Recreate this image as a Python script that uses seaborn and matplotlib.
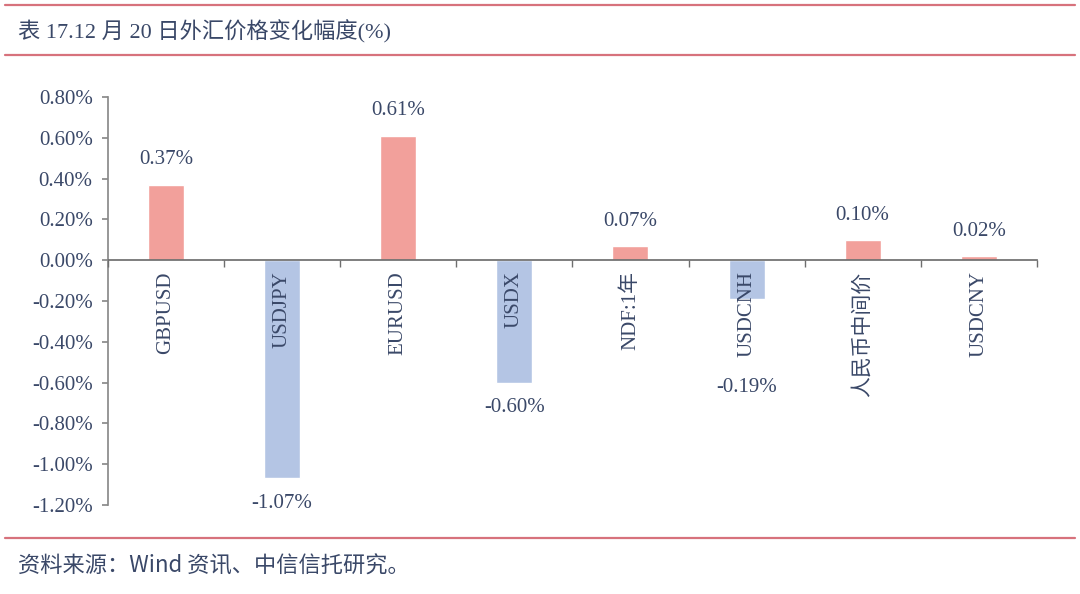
import pandas as pd
import numpy as np
import matplotlib
matplotlib.use("Agg")
import matplotlib.pyplot as plt
import seaborn as sns
from matplotlib.ticker import FuncFormatter, FixedLocator

categories = ["GBPUSD", "USDJPY", "EURUSD", "USDX", "NDF:1年", "USDCNH", "人民币中间价", "USDCNY"]
changes = [0.37, -1.07, 0.61, -0.60, 0.07, -0.19, 0.10, 0.02]
title = "表 17.12 月 20 日外汇价格变化幅度(%)"
source = "资料来源：Wind 资讯、中信信托研究。"

TEXT = "#3a4868"
LINE = "#d7727c"
POS = "#f2a09b"
NEG = "#b4c5e4"

sns.set_theme(style="white")
plt.rcParams["font.family"] = ["Liberation Serif", "Noto Sans CJK SC", "DejaVu Sans"]

df = pd.DataFrame({"cat": categories, "val": changes})
df["sign"] = np.where(df["val"] >= 0, "pos", "neg")

fig = plt.figure(figsize=(10.8, 5.94), dpi=100)
ax = fig.add_axes([0.1, 0.1498, 0.86, 0.6869])

sns.barplot(data=df, x="cat", y="val", hue="sign", palette={"pos": POS, "neg": NEG},
            dodge=False, width=0.31, legend=False, ax=ax, saturation=1)
ax.set_axisbelow(False)  # tick labels sit on top of the bars

ax.set_ylim(-1.2, 0.8)
ax.set_xlim(-0.5, len(categories) - 0.5)
ax.set_yticks(np.arange(-1.2, 0.81, 0.2))
ax.yaxis.set_major_formatter(FuncFormatter(lambda v, p: f"{0 if abs(v) < 1e-9 else v:.2f}%"))

for s in ["top", "right"]:
    ax.spines[s].set_visible(False)
ax.spines["bottom"].set_position(("data", 0))
ax.spines["bottom"].set_color("#6e6e6e")
ax.spines["left"].set_color("#8a8a8a")

ax.xaxis.set_minor_locator(FixedLocator(np.arange(-0.5, len(categories), 1.0)))
ax.tick_params(axis="x", which="major", length=0, pad=8, labelsize=15, labelcolor=TEXT, rotation=90)
ax.tick_params(axis="x", which="minor", length=5, direction="out", color="#6e6e6e", bottom=True)
ax.tick_params(axis="y", length=4, pad=7, direction="out", color="#8a8a8a", left=True, labelsize=15, labelcolor=TEXT)
for lbl in ax.get_xticklabels():
    lbl.set_va("top")
    lbl.set_ha("center")
ax.set_xlabel("")
ax.set_ylabel("")

# value labels; small negative bars get pushed below the rotated tick label
for i, v in enumerate(changes):
    if v >= 0:
        off, va = 11, "bottom"
    elif v > -0.5:
        off, va = -57, "top"
    else:
        off, va = -11, "top"
    ax.annotate(f"{v:.2f}%", xy=(i, v), xytext=(0, off), textcoords="offset points",
                ha="center", va=va, fontsize=15, color=TEXT)

fig.text(0.017, 0.946, title, fontsize=16, color=TEXT, va="center", ha="left")
fig.text(0.017, 0.047, source, fontsize=16, color=TEXT, va="center", ha="left",
         family=["Noto Sans CJK SC", "DejaVu Sans"])

for y in [0.991, 0.907, 0.094]:
    fig.add_artist(plt.Line2D([0.005, 0.995], [y, y], color=LINE, lw=1.6, transform=fig.transFigure))

fig.savefig("out.png", dpi=100)
